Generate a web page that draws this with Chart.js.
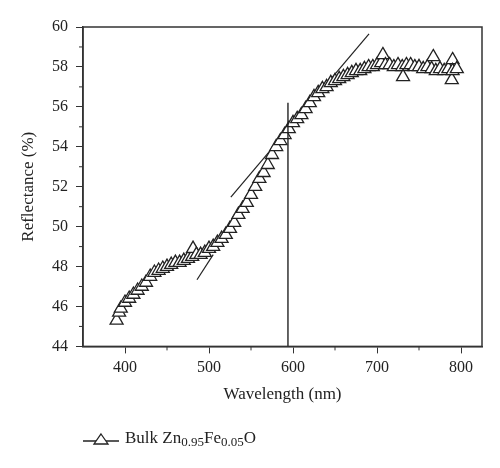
<!DOCTYPE html>
<html>
<head>
<meta charset="utf-8">
<script src="https://cdn.jsdelivr.net/npm/chart.js@4"></script>
<style>
  body { margin: 0; background: #fff; }
  #wrap { position: relative; width: 500px; height: 468px; }
  #legend {
    position: absolute; left: 83px; top: 428px;
    font-family: "Liberation Serif", serif; font-size: 17px; color: #222;
    display: flex; align-items: center;
  }
  #legend sub { font-size: 13px; vertical-align: -3px; }
</style>
</head>
<body>
<div id="wrap">
  <canvas id="chart" width="500" height="468"></canvas>
  <div id="legend">
    <svg width="36" height="16" style="margin-right:6px">
      <line x1="0" y1="10" x2="36" y2="10" stroke="#222" stroke-width="1.3"/>
      <polygon points="18,3 25,13 11,13" fill="#fff" stroke="#222" stroke-width="1.3"/>
    </svg>
    <span>Bulk Zn<sub>0.95</sub>Fe<sub>0.05</sub>O</span>
  </div>
</div>
<script>
// measured spectrum (nm, %)
const wavelength = [
  390, 393, 395, 400, 405, 410, 415, 420, 425, 430, 435, 440, 445, 450, 455, 460,
  465, 470, 475, 480, 481, 485, 490, 495, 500, 505, 510, 515, 520, 525, 530, 535,
  540, 545, 550, 555, 560, 565, 570, 575, 580, 585, 590, 595, 600, 605, 610, 615,
  620, 625, 630, 635, 640, 645, 650, 655, 660, 665, 670, 675, 680, 685, 690, 695,
  700, 705, 707, 710, 715, 720, 725, 730, 731, 735, 740, 745, 750, 755, 760, 765,
  767, 770, 775, 780, 785, 789, 790, 790, 795
];
const reflectance = [
  45.3, 45.7, 45.9, 46.2, 46.4, 46.6, 46.8, 47.0, 47.2, 47.5, 47.7, 47.8, 47.9, 48.0, 48.1, 48.2,
  48.2, 48.3, 48.4, 48.5, 48.9, 48.6, 48.6, 48.7, 48.9, 49.0, 49.2, 49.4, 49.6, 49.9, 50.2, 50.6,
  50.9, 51.2, 51.6, 52.0, 52.4, 52.7, 53.1, 53.6, 54.0, 54.3, 54.6, 54.9, 55.2, 55.4, 55.6, 55.9,
  56.2, 56.5, 56.7, 56.9, 57.0, 57.2, 57.3, 57.4, 57.5, 57.6, 57.7, 57.8, 57.8, 57.9, 58.0, 58.0,
  58.1, 58.2, 58.6, 58.1, 58.1, 58.0, 58.1, 58.0, 57.5, 58.1, 58.1, 58.0, 58.0, 57.9, 58.0, 57.9,
  58.5, 57.8, 57.9, 57.8, 57.9, 57.35, 58.35, 57.8, 57.9
];

// fitted tangents and band-edge marker
const tangentLow = [[485.7, 47.34], [505, 48.6]];
const tangentHigh = [[526, 51.48], [690.5, 59.65]];
const edgeLine = [[594, 44], [594, 56.2]];

const xTicks = [400, 500, 600, 700, 800];
const yTicks = [44, 46, 48, 50, 52, 54, 56, 58, 60];

const pts = wavelength.map((w, i) => ({ x: w, y: reflectance[i] }));
const toPts = arr => arr.map(p => ({ x: p[0], y: p[1] }));

const serif = '"Liberation Serif", "DejaVu Serif", serif';
const ink = '#222';

// frame + minor ticks
const framePlugin = {
  id: 'frame',
  afterDraw(chart) {
    const { ctx, chartArea: a, scales } = chart;
    ctx.save();
    ctx.strokeStyle = '#333';
    ctx.lineWidth = 1.5;
    ctx.strokeRect(a.left, a.top, a.right - a.left, a.bottom - a.top);
    ctx.lineWidth = 1;
    ctx.beginPath();
    for (let v = 45; v < 60; v += 2) {
      const y = scales.y.getPixelForValue(v);
      ctx.moveTo(a.left - 4, y); ctx.lineTo(a.left, y);
    }
    for (let v = 450; v < 825; v += 100) {
      const x = scales.x.getPixelForValue(v);
      ctx.moveTo(x, a.bottom); ctx.lineTo(x, a.bottom + 4);
    }
    ctx.stroke();
    ctx.restore();
  }
};

new Chart(document.getElementById('chart'), {
  type: 'scatter',
  data: {
    datasets: [
      {
        label: 'Bulk Zn0.95Fe0.05O',
        data: pts,
        pointStyle: 'triangle',
        pointRadius: 7.5,
        pointBackgroundColor: '#fff',
        pointBorderColor: ink,
        pointBorderWidth: 1.3,
        showLine: false,
        order: 1
      },
      {
        data: toPts(tangentLow), showLine: true, pointRadius: 0,
        borderColor: ink, borderWidth: 1.2, order: 2
      },
      {
        data: toPts(tangentHigh), showLine: true, pointRadius: 0,
        borderColor: ink, borderWidth: 1.2, order: 2
      },
      {
        data: toPts(edgeLine), showLine: true, pointRadius: 0,
        borderColor: ink, borderWidth: 1.4, order: 0
      }
    ]
  },
  options: {
    responsive: false,
    animation: false,
    layout: { padding: { top: 27, right: 18, bottom: 59, left: 14 } },
    plugins: { legend: { display: false }, tooltip: { enabled: false } },
    scales: {
      x: {
        type: 'linear', min: 350, max: 825,
        afterBuildTicks: s => { s.ticks = xTicks.map(v => ({ value: v })); },
        ticks: { font: { family: serif, size: 16 }, color: ink, padding: 5, maxRotation: 0 },
        grid: { drawOnChartArea: false, tickLength: 7, color: '#333', tickColor: '#333' },
        border: { color: '#333', width: 1.5 },
        title: { display: true, text: 'Wavelength (nm)', font: { family: serif, size: 17 }, color: ink, padding: { top: 2 } }
      },
      y: {
        min: 44, max: 60,
        afterBuildTicks: s => { s.ticks = yTicks.map(v => ({ value: v })); },
        afterFit: s => { s.width = 69; },
        ticks: { font: { family: serif, size: 16 }, color: ink, padding: 8 },
        grid: { drawOnChartArea: false, tickLength: 7, color: '#333', tickColor: '#333' },
        border: { color: '#333', width: 1.5 },
        title: { display: true, text: 'Reflectance (%)', font: { family: serif, size: 17 }, color: ink, padding: { bottom: 4 } }
      }
    }
  },
  plugins: [framePlugin]
});
</script>
</body>
</html>
